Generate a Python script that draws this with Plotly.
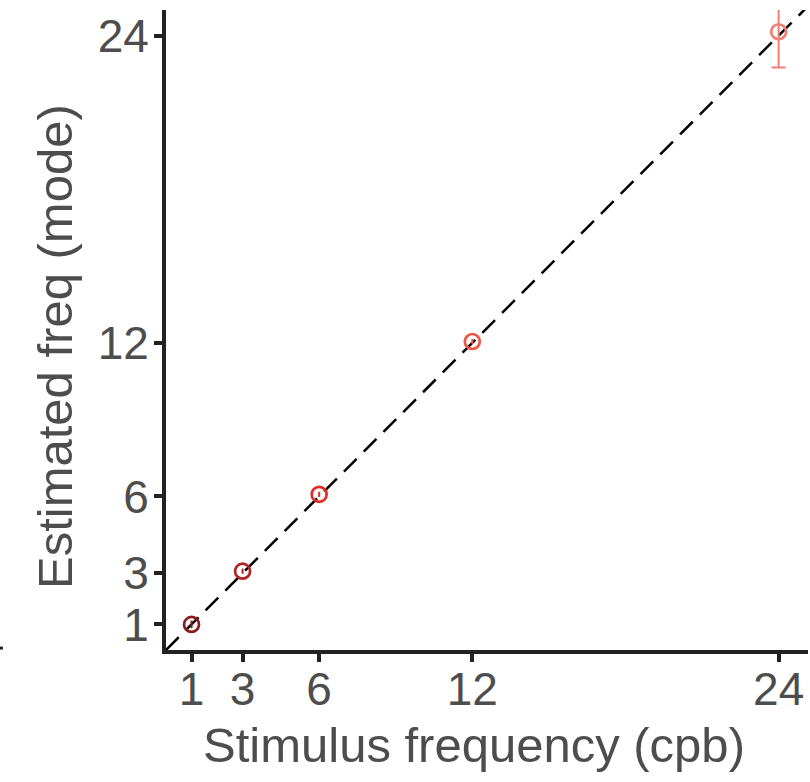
import plotly.graph_objects as go

stim = [1, 3, 6, 12, 24]
est = [1.0, 3.08, 6.08, 12.05, 24.15]
err = [0.15, 0.1, 0.1, 0.1, 1.4]
colors = ["#8B1A1A", "#B52222", "#E42A22", "#EE5545", "#F08075"]
tick_vals = [1, 3, 6, 12, 24]
tick_text = ["1", "3", "6", "12", "24"]
x_title = "Stimulus frequency (cpb)"
y_title = "Estimated freq (mode)"

FONT = "Liberation Sans, Arial, sans-serif"
TXT = "#4d4d4d"

fig = go.Figure()
fig.add_trace(go.Scatter(x=[0, 25.2], y=[0, 25.2], mode="lines",
                         line=dict(color="black", width=2.5, dash="18px,10px"),
                         showlegend=False, hoverinfo="skip"))
for s, e, er, c in zip(stim, est, err, colors):
    fig.add_trace(go.Scatter(
        x=[s], y=[e], mode="markers",
        marker=dict(symbol="circle-open", size=15, color=c, line=dict(width=2.7, color=c)),
        error_y=dict(type="data", array=[er], color=c, thickness=2,
                     width=7 if er > 0.5 else 0),
        showlegend=False, cliponaxis=True))

axis_common = dict(
    showgrid=False, zeroline=False, showline=True, linecolor="#222222", linewidth=4,
    ticks="outside", ticklen=8, tickwidth=4, tickcolor="#222222",
    tickvals=tick_vals, ticktext=tick_text,
    tickfont=dict(family=FONT, size=46, color=TXT),
)
fig.update_xaxes(range=[0, 25.15], ticklabelstandoff=-12, **axis_common)
fig.update_yaxes(range=[0, 25.0], ticklabelstandoff=-4, **axis_common)

fig.add_annotation(text=x_title, xref="paper", yref="paper",
                   x=(474 - 166) / 642, y=(650 - 745) / 640,
                   xanchor="center", yanchor="middle", showarrow=False,
                   font=dict(family=FONT, size=49, color=TXT))
fig.add_annotation(text=y_title, xref="paper", yref="paper", textangle=-90,
                   x=(55 - 166) / 642, y=(650 - 347) / 640,
                   xanchor="center", yanchor="middle", showarrow=False,
                   font=dict(family=FONT, size=49, color=TXT))
fig.add_shape(type="line", xref="paper", yref="paper", x0=-0.2586, x1=-0.2540, y0=0.003, y1=0.003,
              line=dict(color="#222222", width=3))
fig.update_layout(width=810, height=782, margin=dict(l=166, r=2, t=10, b=132),
                  plot_bgcolor="white", paper_bgcolor="white")
fig.write_html("out.html")
